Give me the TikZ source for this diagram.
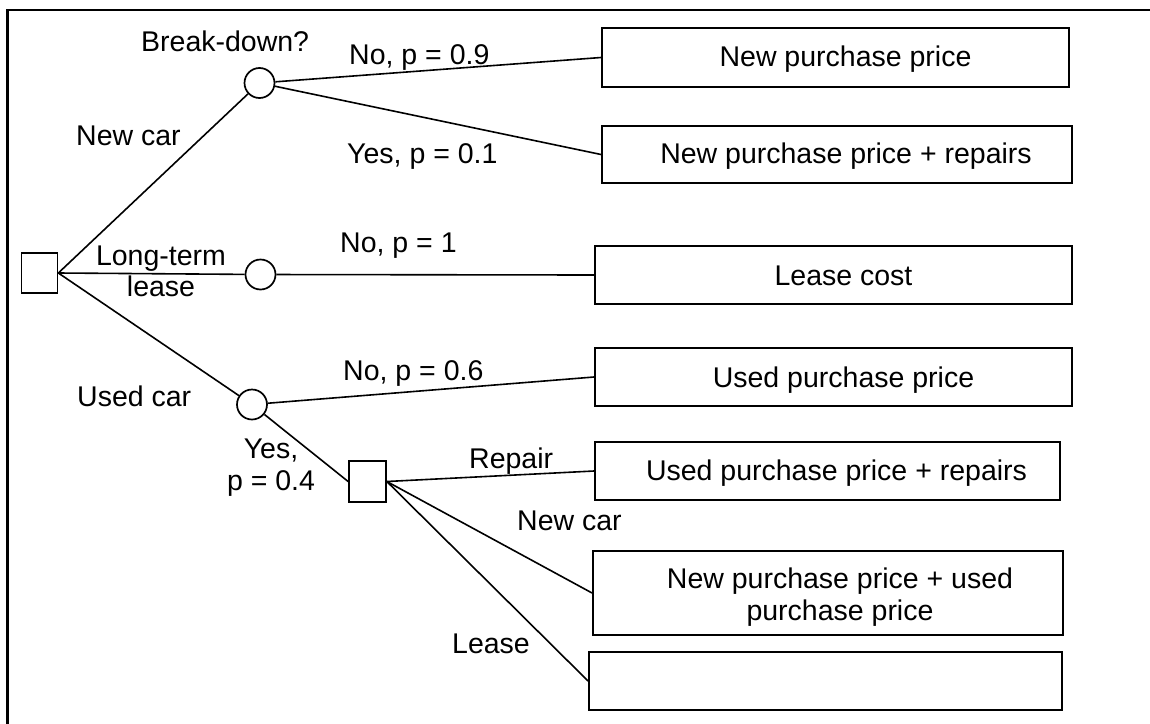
\documentclass[tikz,border=0pt]{standalone}
\usepackage{fontspec}
\setmainfont{Liberation Sans}
\begin{document}
\begin{tikzpicture}[x=1pt,y=-1pt,
  every node/.style={font=\fontsize{28.5}{31.5}\selectfont},
  conn/.style={line width=1.6pt},
  chance/.style={circle,draw,line width=1.7pt,minimum size=30pt,inner sep=0pt},
  decision/.style={rectangle,draw,line width=1.7pt,minimum width=36pt,minimum height=40pt,inner sep=0pt},
  outcome/.style={rectangle,draw,line width=1.9pt,inner sep=0pt},
  lbl/.style={anchor=base west,inner sep=0pt},
  clbl/.style={anchor=base,inner sep=0pt,align=center}]
\useasboundingbox (0,0) rectangle (1150,723);
\clip (0,0) rectangle (1150,723);
% page frame
\draw[line width=2.6pt] (7.5,10) rectangle (1170,740);

% decision and chance nodes
\node[decision] (root) at (39.5,273) {};
\node[chance] (c1) at (259.5,83) {};
\node[chance] (c2) at (260.5,274.5) {};
\node[chance] (c3) at (252,404.5) {};
\node[decision,minimum width=37pt,minimum height=41pt] (d2) at (367.5,481.5) {};

% outcome boxes
\node[outcome,minimum width=467pt,minimum height=59pt] (b1) at (835.5,57.5) {};
\node[outcome,minimum width=470pt,minimum height=57pt] (b2) at (837,154.5) {};
\node[outcome,minimum width=477pt,minimum height=58pt] (b3) at (833.5,275) {};
\node[outcome,minimum width=477pt,minimum height=58pt] (b4) at (833.5,377) {};
\node[outcome,minimum width=465pt,minimum height=58pt] (b5) at (827.5,471) {};
\node[outcome,minimum width=470pt,minimum height=84pt] (b6) at (828,593) {};
\node[outcome,minimum width=473pt,minimum height=58pt] (b7) at (825.5,681) {};

% outcome texts (the base anchor of a two-line node sits on its last line)
\node[clbl] at ([xshift=10pt]b1.center |- 0,66) {New purchase price};
\node[clbl] at ([xshift=9pt]b2.center |- 0,163.5) {New purchase price + repairs};
\node[clbl] at ([xshift=10pt]b3.center |- 0,285) {Lease cost};
\node[clbl] at ([xshift=10pt]b4.center |- 0,387) {Used purchase price};
\node[clbl] at ([xshift=9pt]b5.center |- 0,480) {Used purchase price + repairs};
\node[clbl] at ([xshift=12pt]b6.center |- 0,620) {New purchase price + used\\purchase price};

% branches
\draw[conn] (root.east) -- (c1);
\draw[conn] (root.east) -- (c2);
\draw[conn] (root.east) -- (c3);
\draw[conn] (c1) -- (b1.west);
\draw[conn] (c1) -- (b2.west);
\draw[conn] (c2) -- (b3.west);
\draw[conn] (c3) -- (b4.west);
\draw[conn] (c3) -- (d2.west);
\draw[conn] (d2.east) -- (b5.west);
\draw[conn] (d2.east) -- (b6.west);
\draw[conn] (d2.east) -- (b7.west);

% branch labels
\node[lbl] (lbd) at (141,51) {Break-down?};
\node[lbl] (lnc) at (76,145) {New car};
\node[clbl] (llt) at (161,296.7) {Long-term\\lease};
\node[lbl] (luc) at (77,406) {Used car};
\node[lbl] (ln9) at (349,64) {No, p = 0.9};
\node[lbl] (ly1) at (347,163) {Yes, p = 0.1};
\node[lbl] (ln1) at (340,252) {No, p = 1};
\node[lbl] (ln6) at (343,380) {No, p = 0.6};
\node[clbl] (ly4) at (271,490) {Yes,\\p = 0.4};
\node[lbl] (lrp) at (469,468) {Repair};
\node[lbl] (lnc2) at (517,530) {New car};
\node[lbl] (lls) at (452,653) {Lease};
\end{tikzpicture}
\end{document}
